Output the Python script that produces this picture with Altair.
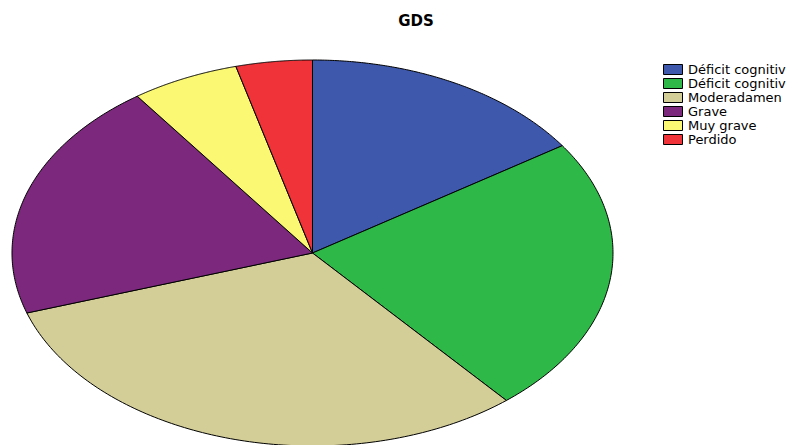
import altair as alt
import pandas as pd

categories = ["Déficit cognitivo leve", "Déficit cognitivo moderado", "Moderadamente grave",
              "Grave", "Muy grave", "Perdido"]
legend_labels = ["Déficit cognitiv", "Déficit cognitiv", "Moderadamen", "Grave", "Muy grave", "Perdido"]
values = [15.6, 23.2, 31.1, 20.1, 5.8, 4.1]
colors = ["#3E58AC", "#2EB848", "#D3CE97", "#7C287D", "#FBF873", "#EF3338"]

df = pd.DataFrame({"cat": categories, "value": values, "idx": list(range(len(categories)))})

label_expr = " : ".join(
    f"datum.value == '{c}' ? '{l}'" for c, l in zip(categories, legend_labels)
) + " : datum.label"

chart = (
    alt.Chart(df)
    .transform_joinaggregate(total="sum(value)")
    .transform_window(cum="sum(value)", sort=[alt.SortField("idx")], frame=[None, 0])
    .transform_calculate(
        a0="(datum.cum - datum.value) / datum.total * 2 * PI",
        a1="datum.cum / datum.total * 2 * PI",
        pts="sequence(0, 122)",
    )
    .transform_flatten(["pts"])
    .transform_calculate(
        ang="datum.a0 + (datum.a1 - datum.a0) * (datum.pts - 1) / 120",
    )
    .transform_calculate(
        px="datum.pts == 0 ? 0 : sin(datum.ang)",
        py="datum.pts == 0 ? 0 : cos(datum.ang)",
    )
    .mark_line(filled=True, stroke="black", strokeWidth=1, interpolate="linear-closed",
               strokeJoin="miter")
    .encode(
        x=alt.X("px:Q", scale=alt.Scale(domain=[-1, 1], nice=False, zero=False), axis=None),
        y=alt.Y("py:Q", scale=alt.Scale(domain=[-1, 1], nice=False, zero=False), axis=None),
        color=alt.Color(
            "cat:N",
            scale=alt.Scale(domain=categories, range=colors),
            sort=categories,
            legend=alt.Legend(
                title=None,
                orient="none",
                legendX=654.5,
                legendY=3,
                padding=0,
                symbolType="M-1.9,-1H1.9V1H-1.9Z",
                symbolSize=100,
                symbolStrokeColor="black",
                symbolStrokeWidth=1,
                symbolOpacity=1,
                labelFont="DejaVu Sans",
                labelFontSize=13,
                labelColor="black",
                labelOffset=8.5,
                labelLimit=0,
                rowPadding=-2.4,
                labelExpr=label_expr,
            ),
        ),
        order=alt.Order("pts:Q"),
    )
    .properties(
        width=601,
        height=386,
        autosize=alt.AutoSizeParams(type="none"),
        padding={"left": 12, "top": 60, "right": 178, "bottom": 0},
        title=alt.TitleParams(
            "GDS",
            anchor="middle",
            frame="group",
            dx=103.5,
            dy=17.5,
            offset=34.5,
            baseline="alphabetic",
            font="DejaVu Sans",
            fontSize=15,
            fontWeight="bold",
            color="black",
        ),
        background="white",
    )
    .configure_view(stroke=None)
)

chart.save("out.html", embed_options={"renderer": "svg", "actions": False})
